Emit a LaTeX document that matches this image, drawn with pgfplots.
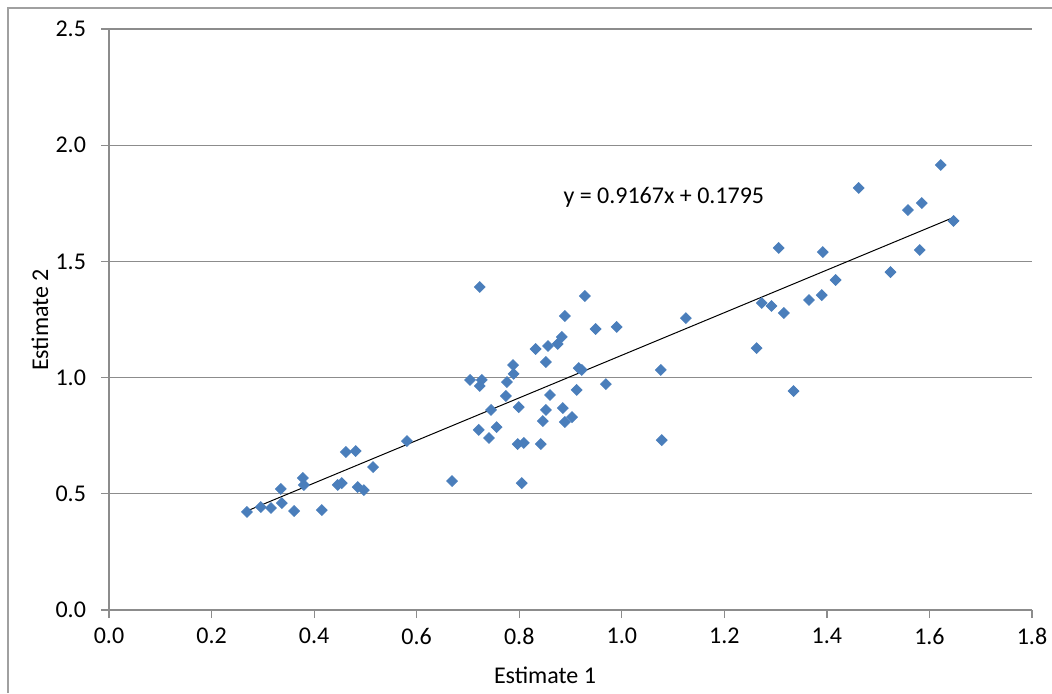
\documentclass[border=0pt]{standalone}
\usepackage{fontspec}
\setmainfont{Carlito}
\usepackage{pgfplots}
\pgfplotsset{compat=1.18}
\definecolor{mblue}{HTML}{4A7EBB}
\definecolor{gridc}{HTML}{8C8C8C}
\definecolor{framec}{HTML}{A0A0A0}
\pgfplotstableread{
x y
0.269 0.422
0.296 0.443
0.316 0.439
0.335 0.521
0.337 0.460
0.361 0.426
0.378 0.568
0.380 0.538
0.415 0.430
0.446 0.538
0.454 0.546
0.462 0.680
0.481 0.684
0.485 0.529
0.497 0.516
0.515 0.615
0.581 0.727
0.669 0.555
0.704 0.990
0.721 0.775
0.723 1.390
0.723 0.964
0.727 0.990
0.741 0.740
0.745 0.861
0.756 0.787
0.774 0.921
0.776 0.981
0.788 1.054
0.789 1.016
0.797 0.714
0.799 0.873
0.805 0.546
0.809 0.719
0.832 1.123
0.842 0.714
0.846 0.813
0.852 1.067
0.852 0.861
0.856 1.136
0.860 0.925
0.875 1.145
0.883 1.175
0.885 0.869
0.889 1.265
0.889 0.809
0.903 0.830
0.912 0.947
0.916 1.041
0.922 1.033
0.928 1.351
0.949 1.209
0.969 0.972
0.990 1.218
1.076 1.033
1.078 0.731
1.125 1.256
1.263 1.127
1.273 1.321
1.292 1.308
1.306 1.558
1.316 1.278
1.335 0.942
1.365 1.334
1.390 1.355
1.392 1.540
1.417 1.420
1.524 1.454
1.462 1.816
1.558 1.721
1.581 1.549
1.585 1.751
1.622 1.915
1.647 1.674
}\pts
\begin{document}
\begin{tikzpicture}
\useasboundingbox (0,0) rectangle (526pt,346.5pt);
\draw[framec, line width=0.6pt] (4pt,0pt) -- (4pt,342.5pt) -- (526pt,342.5pt);
\begin{axis}[
  at={(54.5pt,41.5pt)}, anchor=south west,
  scale only axis, width=461.5pt, height=290.5pt,
  xmin=0, xmax=1.8, ymin=0, ymax=2.5,
  xtick={0,0.2,0.4,0.6,0.8,1.0,1.2,1.4,1.6,1.8},
  ytick={0,0.5,1.0,1.5,2.0,2.5},
  axis x line*=bottom, axis y line*=left,
  axis line style={gridc, line width=0.6pt},
  tick style={gridc, line width=0.6pt},
  tick align=outside, major tick length=4pt,
  ymajorgrids, grid style={gridc, line width=0.6pt},
  /pgf/number format/assume math mode=true,
  /pgf/number format/.cd, fixed, fixed zerofill, precision=1, /pgfplots/.cd,
  ticklabel style={font=\fontsize{12}{14}\selectfont, text=black},
  xticklabel style={yshift=-1.5pt},
  yticklabel style={xshift=-4pt},
  clip=false,
]
\addplot[only marks, mark=square*, mark size=1.9pt, mark options={rotate=45, fill=mblue, draw=mblue}] table[x=x,y=y] {\pts};
\addplot[black, line width=0.5pt] coordinates {(0.269,0.4261) (1.647,1.6893)};
\node[font=\fontsize{12}{14}\selectfont] at (axis cs:1.082,1.777) {y = 0.9167x + 0.1795};
\end{axis}
\node[font=\fontsize{12}{14}\selectfont] at (272.5pt,9pt) {Estimate 1};
\node[font=\fontsize{12}{14}\selectfont, rotate=90] at (20pt,186.5pt) {Estimate 2};
\end{tikzpicture}
\end{document}
